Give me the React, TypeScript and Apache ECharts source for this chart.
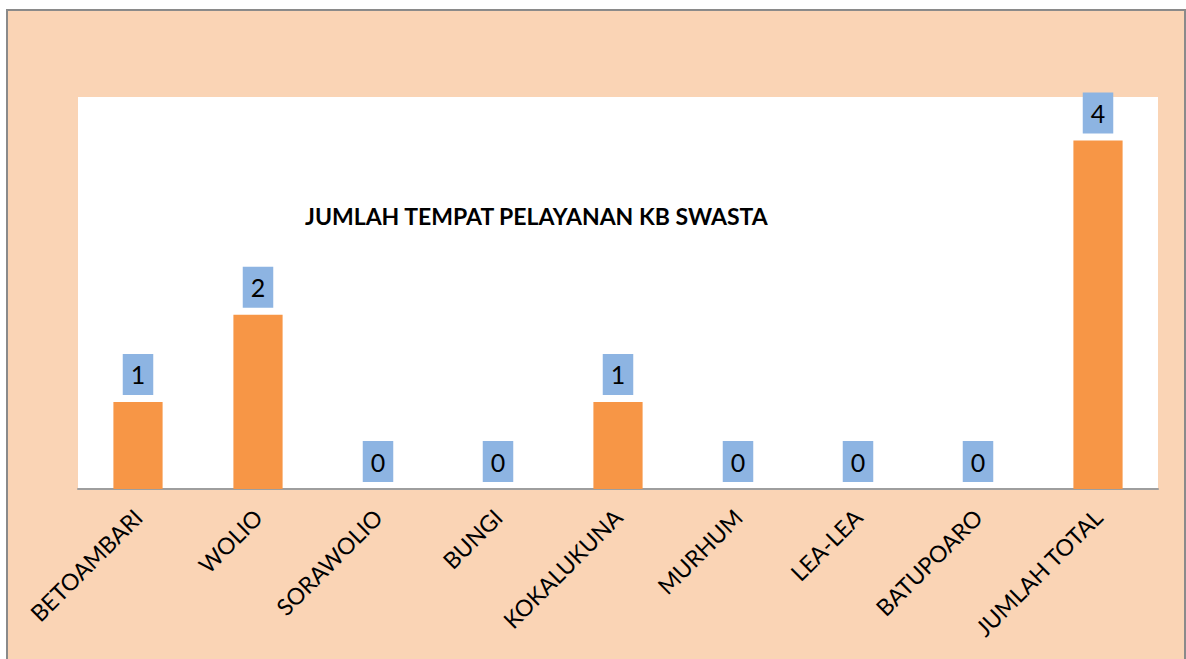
import React, { useEffect, useRef } from "react";
import * as echarts from "echarts";

const categories = [
  "BETOAMBARI",
  "WOLIO",
  "SORAWOLIO",
  "BUNGI",
  "KOKALUKUNA",
  "MURHUM",
  "LEA-LEA",
  "BATUPOARO",
  "JUMLAH TOTAL",
];
const values = [1, 2, 0, 0, 1, 0, 0, 0, 4];
const chartTitle = "JUMLAH TEMPAT PELAYANAN KB SWASTA";

export default function App() {
  const ref = useRef<HTMLDivElement>(null);
  useEffect(() => {
    if (!ref.current) return;
    const chart = echarts.init(ref.current, undefined, { renderer: "svg" });
    const font = "Lato, 'Open Sans', sans-serif";
    chart.setOption({
      animation: false,
      backgroundColor: "#ffffff",
      graphic: [
        {
          type: "rect",
          z: -100,
          silent: true,
          shape: { x: 7, y: 10, width: 1178, height: 660 },
          style: { fill: "#FAD4B5", stroke: "#8a8a8a", lineWidth: 2 },
        },
      ],
      title: {
        text: chartTitle,
        left: 300,
        top: 199,
        textStyle: {
          fontFamily: font,
          fontWeight: "bold",
          fontSize: 23,
          color: "#000",
        },
      },
      grid: {
        left: 78,
        right: 28,
        top: 97,
        bottom: 170,
        show: true,
        backgroundColor: "#ffffff",
        borderWidth: 0,
        containLabel: false,
      },
      xAxis: {
        type: "category",
        data: categories,
        axisLine: { show: true, lineStyle: { color: "#9e9e9e", width: 2 } },
        axisTick: { show: false },
        axisLabel: {
          rotate: 45,
          interval: 0,
          margin: 24,
          fontFamily: font,
          fontSize: 23,
          color: "#000",
        },
      },
      yAxis: {
        type: "value",
        min: 0,
        max: 4.5,
        show: false,
        splitLine: { show: false },
      },
      series: [
        {
          type: "bar",
          data: values,
          barWidth: "41%",
          itemStyle: { color: "#F79646" },
          label: {
            show: true,
            position: "top",
            distance: 7,
            backgroundColor: "#8DB4E2",
            padding: [8, 8, 8, 8],
            lineHeight: 25,
            fontFamily: font,
            fontSize: 25,
            color: "#000",
          },
        },
      ],
    });
    return () => chart.dispose();
  }, []);
  return (
    <div
      ref={ref}
      style={{ position: "fixed", left: 0, top: 0, width: 1186, height: 659 }}
    />
  );
}
